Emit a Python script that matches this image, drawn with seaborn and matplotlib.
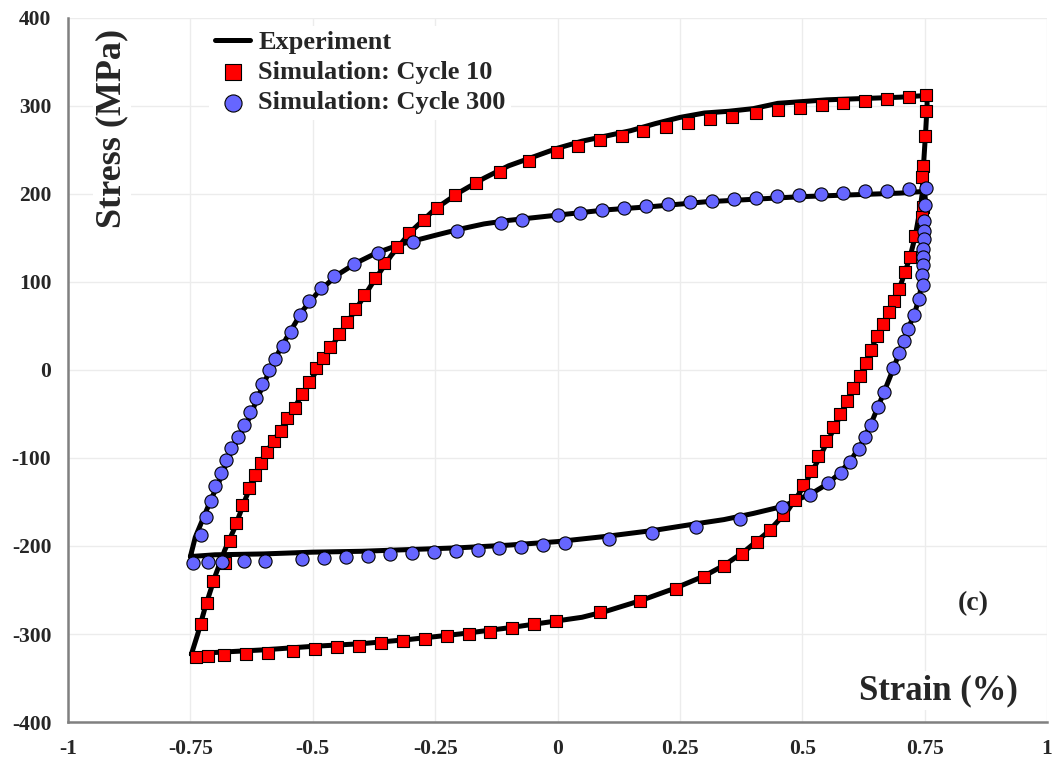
import matplotlib
matplotlib.use('Agg')
import matplotlib.pyplot as plt
import seaborn as sns
import pandas as pd

# ---- data ----
# simulation, cycle 10 (red squares), one closed loop
sim10_strain = [-0.739, -0.728, -0.716, -0.704, -0.679, -0.669, -0.657, -0.645, -0.630, -0.618,
                -0.606, -0.593, -0.579, -0.565, -0.553, -0.536, -0.522, -0.508, -0.493, -0.479,
                -0.465, -0.446, -0.430, -0.414, -0.395, -0.373, -0.354, -0.328, -0.303, -0.273,
                -0.246, -0.209, -0.167, -0.117, -0.058, -0.001, 0.042, 0.087, 0.132, 0.175,
                0.222, 0.267, 0.312, 0.356, 0.406, 0.450, 0.495, 0.540, 0.583, 0.628,
                0.673, 0.718, 0.753,
                0.753, 0.751, 0.747, 0.745, 0.747, 0.745, 0.730, 0.720, 0.710, 0.698,
                0.687, 0.677, 0.665, 0.653, 0.640, 0.630, 0.618, 0.604, 0.591, 0.577,
                0.563, 0.549, 0.532, 0.518, 0.502, 0.485, 0.461, 0.434, 0.408, 0.377,
                0.340, 0.299, 0.242, 0.169, 0.087, -0.003, -0.048, -0.093, -0.138, -0.181,
                -0.226, -0.271, -0.316, -0.361, -0.405, -0.450, -0.495, -0.540, -0.591, -0.636,
                -0.681, -0.714]
sim10_stress = [-326, -289, -265, -240, -219, -194, -174, -153, -134, -119,
                -106, -93, -81, -69, -55, -43, -27, -14, 2, 14,
                26, 41, 55, 69, 85, 105, 122, 140, 156, 170,
                184, 199, 213, 225, 238, 248, 255, 261, 266, 272,
                276, 281, 285, 288, 292, 295, 298, 301, 303, 306,
                308, 310, 312,
                294, 266, 232, 219, 185, 174, 152, 128, 111, 92,
                78, 66, 52, 39, 23, 8, -7, -20, -35, -50,
                -65, -81, -98, -115, -131, -148, -165, -182, -195, -209,
                -223, -235, -249, -263, -275, -285, -289, -293, -298, -300,
                -302, -306, -308, -310, -314, -315, -317, -319, -322, -323,
                -324, -325]

# simulation, cycle 300 (blue circles)
sim300_strain = [-0.745, -0.728, -0.718, -0.708, -0.700, -0.687, -0.677, -0.667, -0.653, -0.640,
                 -0.628, -0.616, -0.604, -0.589, -0.577, -0.561, -0.544, -0.526, -0.508, -0.483,
                 -0.457, -0.416, -0.367, -0.295, -0.205, -0.115, -0.073, 0.001, 0.046, 0.091,
                 0.136, 0.181, 0.226, 0.271, 0.316, 0.361, 0.406, 0.448, 0.493, 0.538,
                 0.583, 0.628, 0.673, 0.718, 0.753,
                 0.751, 0.749, 0.749, 0.749, 0.747, 0.747, 0.747, 0.745, 0.747, 0.739,
                 0.728, 0.716, 0.708, 0.698, 0.685, 0.667, 0.655, 0.640, 0.628, 0.616,
                 0.598, 0.579, 0.553, 0.516, 0.459, 0.373, 0.283, 0.193, 0.105, 0.015,
                 -0.030, -0.075, -0.119, -0.162, -0.207, -0.252, -0.297, -0.342, -0.387, -0.432,
                 -0.477, -0.522, -0.598, -0.640, -0.685, -0.714]
sim300_stress = [-219, -188, -167, -149, -132, -117, -102, -89, -76, -63,
                 -48, -32, -16, 0, 13, 27, 43, 63, 78, 93,
                 107, 120, 133, 145, 158, 167, 170, 176, 178, 182,
                 184, 186, 189, 191, 192, 194, 195, 198, 199, 200,
                 201, 203, 203, 206, 207,
                 188, 169, 158, 149, 138, 128, 119, 108, 97, 81,
                 63, 47, 33, 19, 2, -25, -42, -63, -76, -90,
                 -105, -117, -128, -142, -156, -169, -178, -185, -192, -197,
                 -199, -201, -202, -205, -206, -207, -208, -209, -211, -213,
                 -214, -215, -217, -217, -218, -218]

# experiment, cycle 10 loop
exp10_strain = [-0.748, -0.735, -0.72, -0.70, -0.68, -0.66, -0.64, -0.62, -0.60, -0.57,
                -0.54, -0.50, -0.46, -0.42, -0.38, -0.34, -0.30, -0.25, -0.20, -0.15,
                -0.10, -0.05, 0.0, 0.05, 0.10, 0.15, 0.20, 0.25, 0.30, 0.35,
                0.40, 0.45, 0.50, 0.55, 0.60, 0.65, 0.70, 0.755,
                0.755, 0.752, 0.748, 0.745, 0.74, 0.73, 0.72, 0.70, 0.68, 0.65,
                0.62, 0.59, 0.56, 0.53, 0.50, 0.47, 0.43, 0.38, 0.34, 0.30,
                0.24, 0.17, 0.10, 0.05, 0.0, -0.1, -0.2, -0.3, -0.4, -0.5,
                -0.6, -0.7, -0.748]
exp10_stress = [-323, -300, -270, -235, -205, -180, -150, -122, -98, -72,
                -45, -8, 28, 62, 97, 130, 157, 183, 202, 218,
                232, 242, 252, 260, 266, 272, 280, 287, 292, 294,
                297, 303, 305, 307, 308, 309, 310, 312,
                300, 270, 235, 200, 180, 150, 128, 95, 68, 35,
                -5, -38, -72, -105, -135, -160, -184, -207, -222, -234,
                -248, -262, -274, -281, -285, -293, -300, -306, -311, -314,
                -318, -321, -323]

# experiment, cycle 300 loop
exp300_strain = [-0.75, -0.74, -0.725, -0.71, -0.69, -0.67, -0.65, -0.63, -0.61, -0.59,
                 -0.57, -0.55, -0.52, -0.49, -0.45, -0.41, -0.37, -0.32, -0.25, -0.20,
                 -0.15, -0.10, -0.05, 0.0, 0.1, 0.2, 0.3, 0.4, 0.5, 0.6,
                 0.7, 0.75,
                 0.752, 0.75, 0.748, 0.745, 0.74, 0.73, 0.715, 0.70, 0.685, 0.665,
                 0.645, 0.625, 0.60, 0.575, 0.55, 0.52, 0.46, 0.40, 0.34, 0.28,
                 0.2, 0.1, 0.0, -0.1, -0.2, -0.3, -0.4, -0.5, -0.6, -0.7,
                 -0.75]
exp300_stress = [-212, -190, -170, -150, -125, -97, -75, -55, -28, -3,
                 20, 40, 68, 88, 108, 122, 133, 143, 153, 160,
                 166, 170, 173, 176, 182, 186, 191, 194, 197, 199,
                 201, 203,
                 190, 160, 130, 105, 85, 65, 45, 22, 0, -28,
                 -55, -80, -102, -118, -130, -140, -155, -163, -170, -175,
                 -182, -189, -195, -199, -202, -204, -206, -207, -209, -210,
                 -212]

x_ticks = [-1, -0.75, -0.5, -0.25, 0, 0.25, 0.5, 0.75, 1]
x_tick_labels = ['-1', '-0.75', '-0.5', '-0.25', '0', '0.25', '0.5', '0.75', '1']
y_ticks = [-400, -300, -200, -100, 0, 100, 200, 300, 400]

sns.set_style('white')
plt.rcParams['font.family'] = ['Liberation Serif', 'DejaVu Serif']
plt.rcParams['axes.unicode_minus'] = False

fig = plt.figure(figsize=(10.58, 7.65), dpi=100)
ax = fig.add_axes([0.0643, 0.0562, 0.9253, 0.9203])

# experiment curves (keep the loop order, no aggregation)
sns.lineplot(x=exp10_strain, y=exp10_stress, sort=False, estimator=None, errorbar=None,
             color='black', linewidth=3.6, label='Experiment', ax=ax, zorder=2)
sns.lineplot(x=exp300_strain, y=exp300_stress, sort=False, estimator=None, errorbar=None,
             color='black', linewidth=3.6, label='_nolegend_', ax=ax, zorder=2)

# simulation markers
sns.scatterplot(x=sim10_strain, y=sim10_stress, marker='s', color='#FF0000', edgecolor='black',
                linewidth=0.8, s=85, label='Simulation: Cycle 10', ax=ax, zorder=3)
sns.scatterplot(x=sim300_strain, y=sim300_stress, marker='o', color='#6666FF', edgecolor='black',
                linewidth=0.8, s=90, label='Simulation: Cycle 300', ax=ax, zorder=4)

ax.set_xlim(-1, 1)
ax.set_ylim(-400, 400)
ax.set_xticks(x_ticks)
ax.set_xticklabels(x_tick_labels)
ax.set_yticks(y_ticks)
ax.grid(True, color='#ECECEC', linewidth=1)
ax.set_axisbelow(True)

for side in ['top', 'right']:
    ax.spines[side].set_visible(False)
for side in ['left', 'bottom']:
    ax.spines[side].set_color('#808080')
    ax.spines[side].set_linewidth(1.8)
ax.tick_params(axis='both', direction='out', length=6, width=1.5, color='#808080',
               labelsize=15.5, pad=6)
for lab in ax.get_xticklabels() + ax.get_yticklabels():
    lab.set_fontweight('bold')

# axis titles placed inside the plot
ax.text(0.045, 0.843, 'Stress (MPa)', transform=ax.transAxes, rotation=90,
        ha='center', va='center', fontsize=26, fontweight='bold',
        bbox=dict(facecolor='white', edgecolor='none', pad=2))
ax.text(0.97, 0.045, 'Strain (%)', transform=ax.transAxes, ha='right', va='center',
        fontsize=25, fontweight='bold',
        bbox=dict(facecolor='white', edgecolor='none', pad=2))
ax.text(0.85, -265, '(c)', ha='center', va='center', fontsize=20, fontweight='bold')

leg = ax.legend(loc='upper left', bbox_to_anchor=(0.131, 1.008), frameon=True, fancybox=False,
                facecolor='white', edgecolor='none', framealpha=1, handlelength=1.35,
                handletextpad=0.3, labelspacing=0.25, borderpad=0.2, markerscale=1.3,
                prop={'weight': 'bold', 'size': 19})

fig.savefig('out.png', dpi=100)
